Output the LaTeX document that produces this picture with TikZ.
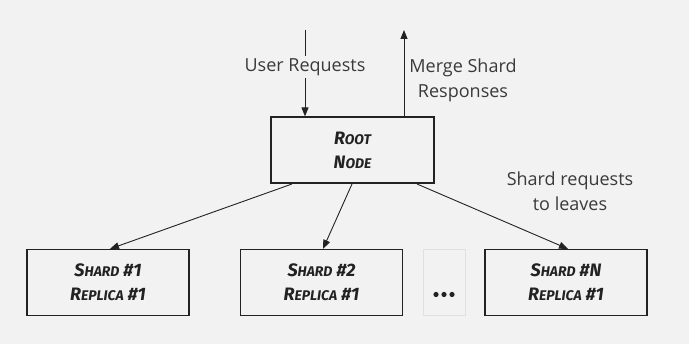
\documentclass[tikz,border=0pt]{standalone}
\usepackage{fontspec}
\setmainfont{Open Sans}
\newfontfamily\handfont{Fira Sans}[UprightFont=*-Bold Italic]
\usetikzlibrary{arrows.meta}
\definecolor{bg}{HTML}{F2F2F2}
\definecolor{ink}{HTML}{222222}
\definecolor{txt}{HTML}{3A3A3A}
\newcommand{\hc}[2]{{\fontsize{18}{24}\selectfont #1}{\fontsize{14}{24}\selectfont #2}}
\tikzset{
  box/.style={draw=ink, line width=1.2pt, fill=bg, minimum width=162pt, minimum height=66pt, inner sep=0pt, align=center, font=\handfont\fontsize{18}{24}\selectfont, text=ink},
  lbl/.style={font=\fontsize{18}{25}\selectfont, text=txt, align=center, fill=bg, inner sep=2pt},
  conn/.style={draw=ink, line width=0.9pt, -{Triangle[length=9pt,width=7pt]}},
}
\begin{document}
\begin{tikzpicture}[x=1pt,y=-1pt]
\fill[bg] (0,0) rectangle (689,344);
\useasboundingbox (0,0) rectangle (689,344);
\node[box, minimum width=163pt] (root) at (352.5,150) {\hc{R}{OOT}\\\hc{N}{ODE}};
\node[box] (s1) at (108,282.5) {\hc{S}{HARD} \#1\\\hc{R}{EPLICA} \#1};
\node[box] (s2) at (321.5,282.5) {\hc{S}{HARD} \#2\\\hc{R}{EPLICA} \#1};
\node[box] (sn) at (566,282.5) {\hc{S}{HARD} \#N\\\hc{R}{EPLICA} \#1};
\node[draw=black!12, line width=0.8pt, fill=bg, minimum width=42pt, minimum height=66pt, inner sep=0pt] (dots) at (444,282.5) {};
\foreach \i in {-8,0,8} \fill[ink] ([xshift=\i pt, yshift=-12pt]dots.center) circle (2.6pt);
\coordinate (uin) at (305,30);
\coordinate (uout) at (404,30);
\draw[conn] (uin) -- (uin |- root.north);
\draw[conn] (uout |- root.north) -- (uout);
\node[lbl] (ulbl) at (305,67) {User Requests};
\node[lbl, fill=none] (mlbl) at (463,80) {Merge Shard\\Responses};
\draw[conn] (292,184) -- (s1.north -| 110,0);
\draw[conn] (352,184) -- (s2.north -| 323,0);
\draw[conn] (417,184) -- (sn.north -| 568,0);
\node[lbl, fill=none] (slbl) at (570,191) {Shard requests\\to leaves};
\end{tikzpicture}
\end{document}
